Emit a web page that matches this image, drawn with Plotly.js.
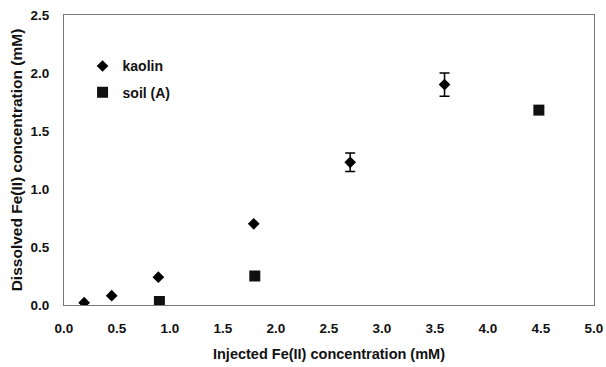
<!DOCTYPE html>
<html>
<head>
<meta charset="utf-8">
<script src="https://cdn.plot.ly/plotly-3.0.1.min.js"></script>
<style>html,body{margin:0;padding:0;background:#fff;}#chart{width:606px;height:367px;}</style>
</head>
<body>
<div id="chart"></div>
<script>
const kaolinX = [0.19, 0.45, 0.89, 1.79, 2.70, 3.59];
const kaolinY = [0.02, 0.08, 0.24, 0.70, 1.23, 1.90];
const kaolinErr = [0, 0, 0, 0, 0.08, 0.10];
const soilX = [0.90, 1.80, 4.48];
const soilY = [0.03, 0.25, 1.68];
const soilErr = [0, 0, 0.02];
const xTicks = [0, 0.5, 1, 1.5, 2, 2.5, 3, 3.5, 4, 4.5, 5];
const xTickLabels = ["0.0","0.5","1.0","1.5","2.0","2.5","3.0","3.5","4.0","4.5","5.0"];
const yTicks = [0, 0.5, 1, 1.5, 2, 2.5];
const yTickLabels = ["0.0","0.5","1.0","1.5","2.0","2.5"];

const fam = "Liberation Sans, Arial, sans-serif";
const bold = (s) => ({family: fam, size: s, color: "#111", weight: "bold"});

const traces = [
  {
    x: kaolinX, y: kaolinY, name: "kaolin", type: "scatter", mode: "markers",
    legendgroup: "a",
    marker: {symbol: "diamond", size: 9, color: "#000"},
    error_y: {type: "data", array: kaolinErr, visible: true, color: "#000", thickness: 1.5, width: 5}
  },
  {
    x: soilX, y: soilY, name: "soil (A)", type: "scatter", mode: "markers",
    legendgroup: "b",
    marker: {symbol: "square", size: 11, color: "#111"},
    error_y: {type: "data", array: soilErr, visible: true, color: "#000", thickness: 1.5, width: 5}
  }
];

const layout = {
  width: 606, height: 367,
  margin: {l: 64, r: 12, t: 15, b: 62},
  paper_bgcolor: "#fff", plot_bgcolor: "#fff",
  font: {family: fam, size: 13, color: "#111"},
  showlegend: true,
  legend: {
    x: 0.035, y: 0.878, xanchor: "left", yanchor: "top",
    bgcolor: "rgba(0,0,0,0)", borderwidth: 0,
    font: bold(14),
    traceorder: "grouped", tracegroupgap: 5, itemwidth: 30
  },
  xaxis: {
    range: [0, 5], tickvals: xTicks, ticktext: xTickLabels,
    showgrid: false, zeroline: false,
    showline: true, mirror: true, linecolor: "#777", linewidth: 1,
    ticks: "", ticklen: 0, ticklabelstandoff: 11,
    tickfont: bold(13.5),
    title: {text: "Injected Fe(II) concentration (mM)", standoff: 13, font: bold(14.5)}
  },
  yaxis: {
    range: [0, 2.5], tickvals: yTicks, ticktext: yTickLabels,
    showgrid: false, zeroline: false,
    showline: true, mirror: true, linecolor: "#777", linewidth: 1,
    ticks: "", ticklen: 0, ticklabelstandoff: 11,
    tickfont: bold(13.5),
    title: {text: "Dissolved Fe(II) concentration (mM)", standoff: 4, font: bold(15.5)}
  }
};

Plotly.newPlot("chart", traces, layout, {staticPlot: true, displayModeBar: false});
</script>
</body>
</html>
